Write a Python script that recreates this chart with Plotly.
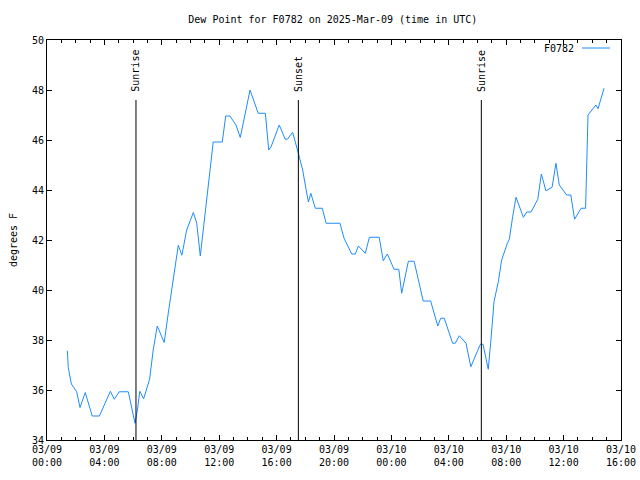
import plotly.graph_objects as go

# ---- data ----
times = [
    "2025-03-09 01:25", "2025-03-09 01:29", "2025-03-09 01:42", "2025-03-09 02:04", "2025-03-09 02:18",
    "2025-03-09 02:40", "2025-03-09 03:09", "2025-03-09 03:39", "2025-03-09 04:25", "2025-03-09 04:41",
    "2025-03-09 05:02", "2025-03-09 05:40", "2025-03-09 06:08", "2025-03-09 06:18", "2025-03-09 06:28",
    "2025-03-09 06:44", "2025-03-09 07:09", "2025-03-09 07:24", "2025-03-09 07:41", "2025-03-09 08:10",
    "2025-03-09 08:27", "2025-03-09 08:48", "2025-03-09 09:09", "2025-03-09 09:24", "2025-03-09 09:44",
    "2025-03-09 10:12", "2025-03-09 10:26", "2025-03-09 10:41", "2025-03-09 10:56", "2025-03-09 11:10",
    "2025-03-09 11:35", "2025-03-09 12:13", "2025-03-09 12:27", "2025-03-09 12:45", "2025-03-09 13:10",
    "2025-03-09 13:28", "2025-03-09 14:09", "2025-03-09 14:43", "2025-03-09 15:13", "2025-03-09 15:27",
    "2025-03-09 15:37", "2025-03-09 16:11", "2025-03-09 16:36", "2025-03-09 16:45", "2025-03-09 17:07",
    "2025-03-09 17:31", "2025-03-09 17:49", "2025-03-09 18:06", "2025-03-09 18:13", "2025-03-09 18:23",
    "2025-03-09 18:42", "2025-03-09 19:11", "2025-03-09 19:27", "2025-03-09 20:25", "2025-03-09 20:42",
    "2025-03-09 21:14", "2025-03-09 21:29", "2025-03-09 21:42", "2025-03-09 22:11", "2025-03-09 22:28",
    "2025-03-09 23:09", "2025-03-09 23:26", "2025-03-09 23:43", "2025-03-10 00:11", "2025-03-10 00:31",
    "2025-03-10 00:43", "2025-03-10 01:11", "2025-03-10 01:35", "2025-03-10 02:13", "2025-03-10 02:44",
    "2025-03-10 03:14", "2025-03-10 03:26", "2025-03-10 03:41", "2025-03-10 04:16", "2025-03-10 04:27",
    "2025-03-10 04:44", "2025-03-10 05:12", "2025-03-10 05:32", "2025-03-10 06:12", "2025-03-10 06:23",
    "2025-03-10 06:45", "2025-03-10 06:55", "2025-03-10 07:09", "2025-03-10 07:27", "2025-03-10 07:41",
    "2025-03-10 08:05", "2025-03-10 08:13", "2025-03-10 08:27", "2025-03-10 08:41", "2025-03-10 09:12",
    "2025-03-10 09:26", "2025-03-10 09:44", "2025-03-10 10:12", "2025-03-10 10:27", "2025-03-10 10:33",
    "2025-03-10 10:46", "2025-03-10 11:12", "2025-03-10 11:28", "2025-03-10 11:42", "2025-03-10 12:13",
    "2025-03-10 12:30", "2025-03-10 12:46", "2025-03-10 13:13", "2025-03-10 13:32", "2025-03-10 13:42",
    "2025-03-10 14:15", "2025-03-10 14:24", "2025-03-10 14:49",
]
dewpoint = [
    37.57, 36.9, 36.24, 35.93, 35.3,
    35.9, 34.96, 34.96, 35.95, 35.63,
    35.93, 35.93, 34.67, 35.2, 35.95,
    35.65, 36.43, 37.6, 38.56, 37.9,
    39.07, 40.4, 41.79, 41.39, 42.4,
    43.1, 42.67, 41.36, 42.67, 43.9,
    45.92, 45.92, 46.96, 46.96, 46.6,
    46.1, 48.0, 47.07, 47.07, 45.6,
    45.73, 46.6, 46.03, 46.03, 46.31,
    45.47, 44.8, 43.87, 43.52, 43.87,
    43.27, 43.27, 42.67, 42.67, 42.07,
    41.44, 41.44, 41.76, 41.47, 42.11,
    42.11, 41.17, 41.44, 40.83, 40.83,
    39.87, 41.15, 41.15, 39.56, 39.56,
    38.56, 38.87, 38.87, 37.87, 37.87,
    38.17, 37.87, 36.93, 37.83, 37.83,
    36.83, 37.87, 39.53, 40.33, 41.2,
    41.87, 42.03, 42.93, 43.71, 42.91,
    43.12, 43.12, 43.63, 44.64, 44.4,
    43.97, 44.11, 45.07, 44.2, 43.8,
    43.8, 42.83, 43.27, 43.27, 47.0,
    47.4, 47.25, 48.07,
]
series_name = "F0782"

event_times = ["2025-03-09 06:12", "2025-03-09 17:31", "2025-03-10 06:16"]
event_labels = ["Sunrise", "Sunset", "Sunrise"]

tick_vals = ["2025-03-09 00:00", "2025-03-09 04:00", "2025-03-09 08:00", "2025-03-09 12:00",
             "2025-03-09 16:00", "2025-03-09 20:00", "2025-03-10 00:00", "2025-03-10 04:00",
             "2025-03-10 08:00", "2025-03-10 12:00", "2025-03-10 16:00"]
tick_text = ["03/09<br>00:00", "03/09<br>04:00", "03/09<br>08:00", "03/09<br>12:00",
             "03/09<br>16:00", "03/09<br>20:00", "03/10<br>00:00", "03/10<br>04:00",
             "03/10<br>08:00", "03/10<br>12:00", "03/10<br>16:00"]

FONT = "DejaVu Sans Mono"
LINE_COLOR = "#1e8cff"

fig = go.Figure()
fig.add_trace(go.Scatter(x=times, y=dewpoint, mode="lines", name=series_name,
                         line=dict(color=LINE_COLOR, width=1), showlegend=False))

for t, lab in zip(event_times, event_labels):
    fig.add_shape(type="line", xref="x", yref="y", x0=t, x1=t, y0=34, y1=47.6,
                  line=dict(color="black", width=1))
    fig.add_annotation(x=t, y=47.85, xref="x", yref="y", text=lab, textangle=-90,
                       showarrow=False, xanchor="center", yanchor="bottom",
                       font=dict(family=FONT, size=10, color="black"))

# gnuplot-style key: text then line sample
fig.add_annotation(x=0.9216, y=0.98, xref="paper", yref="paper", text=series_name,
                   showarrow=False, xanchor="right", yanchor="middle",
                   font=dict(family=FONT, size=10, color="black"))
fig.add_shape(type="line", xref="paper", yref="paper", x0=0.932, x1=0.981, y0=0.98, y1=0.98,
              line=dict(color=LINE_COLOR, width=1))

fig.update_layout(
    width=640, height=480,
    margin=dict(l=47, r=19, t=40, b=40, autoexpand=False),
    paper_bgcolor="white", plot_bgcolor="white",
    font=dict(family=FONT, size=10, color="black"),
    title=dict(text="Dew Point for F0782 on 2025-Mar-09 (time in UTC)", x=0.52, xanchor="center",
               y=1 - 19 / 480, yanchor="middle", font=dict(family=FONT, size=10)),
)
fig.update_xaxes(
    range=["2025-03-09 00:00", "2025-03-10 16:00"], tickmode="array", automargin=False,
    tickvals=tick_vals, ticktext=tick_text, ticks="inside", ticklen=5, tickcolor="black",
    showline=True, linecolor="black", linewidth=1, mirror="allticks", showgrid=False,
    zeroline=False,
    minor=dict(ticks="inside", dtick=3600000, ticklen=3, tickcolor="black", showgrid=False),
    tickfont=dict(family=FONT, size=10),
)
fig.update_yaxes(
    range=[34, 50], dtick=2, tick0=34, ticks="inside", ticklen=5, tickcolor="black",
    showline=True, linecolor="black", linewidth=1, mirror="allticks", showgrid=False,
    zeroline=False, automargin=False,
    title=dict(text="degrees F", standoff=12, font=dict(family=FONT, size=10)),
    tickfont=dict(family=FONT, size=10),
)

fig.write_html("out.html")
